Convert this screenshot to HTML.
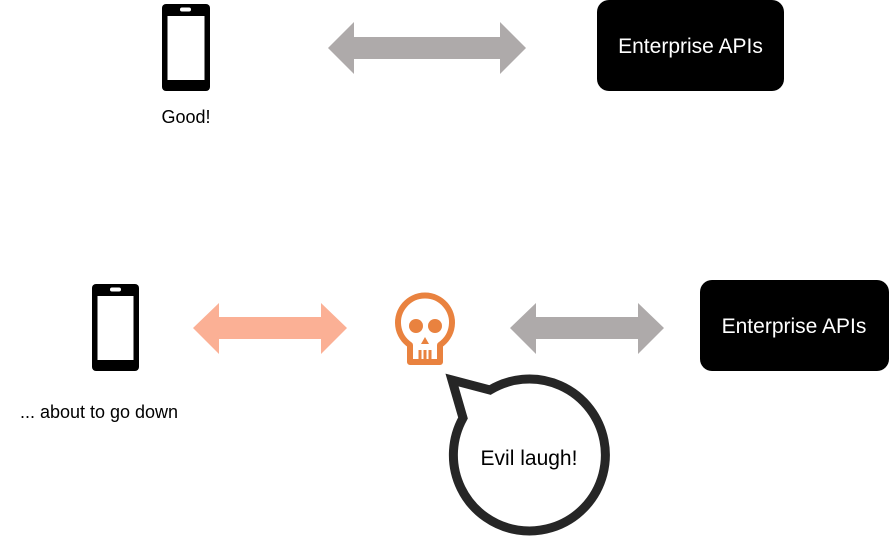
<!DOCTYPE html>
<html><head><style>
body{margin:0;width:889px;height:537px;background:#fff;overflow:hidden;font-family:"Liberation Sans",sans-serif}
</style></head><body>
<svg width="889" height="537" xmlns="http://www.w3.org/2000/svg" style="position:absolute;left:0;top:0">
<rect x="162" y="4" width="48" height="87" rx="4" fill="#000"/>
<rect x="167.5" y="16" width="37" height="64" fill="#fff"/>
<rect x="180" y="7.5" width="11" height="4" rx="2" fill="#fff"/>
<rect x="92" y="284" width="47" height="87" rx="4" fill="#000"/>
<rect x="97.5" y="296" width="36" height="64" fill="#fff"/>
<rect x="110" y="287.5" width="11" height="4" rx="2" fill="#fff"/>
<polygon points="328,48 354,22 354,37 500,37 500,22 526,48 500,74 500,59 354,59 354,74" fill="#aeaaaa"/>
<polygon points="193,328 219,303 219,317 321,317 321,303 347,328 321,354 321,339 219,339 219,354" fill="#fbb095"/>
<polygon points="510,328 536,303 536,317 638,317 638,303 664,328 638,354 638,339 536,339 536,354" fill="#aeaaaa"/>
<rect x="597" y="0" width="187" height="91" rx="12" fill="#000"/>
<rect x="700" y="280" width="189" height="91" rx="12" fill="#000"/>
<text x="690.5" y="53" text-anchor="middle" fill="#fff" font-size="21" font-family="Liberation Sans,sans-serif">Enterprise APIs</text>
<text x="794" y="333" text-anchor="middle" fill="#fff" font-size="21" font-family="Liberation Sans,sans-serif">Enterprise APIs</text>
<text x="186" y="123" text-anchor="middle" fill="#000" font-size="18" font-family="Liberation Sans,sans-serif">Good!</text>
<text x="99" y="418" text-anchor="middle" fill="#000" font-size="18" font-family="Liberation Sans,sans-serif">... about to go down</text>
<g fill="none" stroke="#e9823f" stroke-width="6" stroke-linejoin="round">
<path d="M410,345 A27,27 0 1 1 440,345 L440,362 L410,362 Z"/>
</g>
<g stroke="#e9823f" stroke-width="3"><line x1="420" y1="350" x2="420" y2="362"/><line x1="425" y1="350" x2="425" y2="362"/><line x1="430" y1="350" x2="430" y2="362"/></g>
<circle cx="416" cy="326" r="7" fill="#e9823f"/>
<circle cx="435" cy="326" r="7" fill="#e9823f"/>
<polygon points="425,337 421,344 429,344" fill="#e9823f"/>
<path d="M452,380 L490,390 A76,76 0 1 1 463,418 Z" fill="#fff" stroke="#262626" stroke-width="9" stroke-linejoin="miter"/>
<text x="529" y="465" text-anchor="middle" fill="#000" font-size="21" font-family="Liberation Sans,sans-serif">Evil laugh!</text>
</svg>
</body></html>
